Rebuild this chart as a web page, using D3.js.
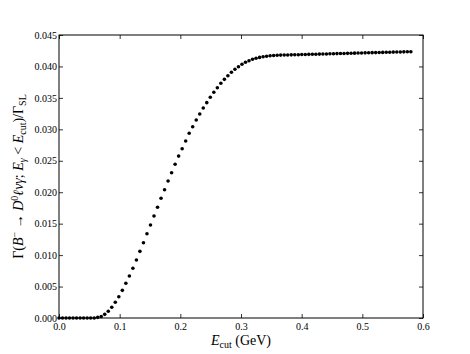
<!DOCTYPE html>
<html>
<head>
<meta charset="utf-8">
<script src="https://cdn.jsdelivr.net/npm/d3@7"></script>
<style>
  html, body { margin: 0; padding: 0; background: #fff; }
  svg text { font-family: "Liberation Serif", "DejaVu Serif", serif; fill: #000; }
</style>
</head>
<body>
<div id="chart"></div>
<script>
// photon energy cut (GeV)
const ecut = [
  0.0000, 0.0058, 0.0116, 0.0174, 0.0232, 0.0290, 0.0348, 0.0406, 0.0464, 0.0522,
  0.0580, 0.0638, 0.0696, 0.0754, 0.0812, 0.0870, 0.0928, 0.0986, 0.1044, 0.1102,
  0.1160, 0.1218, 0.1276, 0.1334, 0.1392, 0.1450, 0.1508, 0.1566, 0.1624, 0.1682,
  0.1740, 0.1798, 0.1856, 0.1914, 0.1972, 0.2030, 0.2088, 0.2146, 0.2204, 0.2262,
  0.2320, 0.2378, 0.2436, 0.2494, 0.2552, 0.2610, 0.2668, 0.2726, 0.2784, 0.2842,
  0.2900, 0.2958, 0.3016, 0.3074, 0.3132, 0.3190, 0.3248, 0.3306, 0.3364, 0.3422,
  0.3480, 0.3538, 0.3596, 0.3654, 0.3712, 0.3770, 0.3828, 0.3886, 0.3944, 0.4002,
  0.4060, 0.4118, 0.4176, 0.4234, 0.4292, 0.4350, 0.4408, 0.4466, 0.4524, 0.4582,
  0.4640, 0.4698, 0.4756, 0.4814, 0.4872, 0.4930, 0.4988, 0.5046, 0.5104, 0.5162,
  0.5220, 0.5278, 0.5336, 0.5394, 0.5452, 0.5510, 0.5568, 0.5626, 0.5684, 0.5742,
  0.5800
];
// Gamma(E_gamma < E_cut) / Gamma_SL
const ratio = [
  0, 0, 0, 0, 0, 0, 0, 0, 0, 0,
  0, 0.00010, 0.00025, 0.00058, 0.00107, 0.00170, 0.00250, 0.00339, 0.00440, 0.00552,
  0.00668, 0.00790, 0.00922, 0.01060, 0.01197, 0.01340, 0.01479, 0.01622, 0.01760, 0.01903,
  0.02040, 0.02178, 0.02310, 0.02444, 0.02574, 0.02692, 0.02814, 0.02937, 0.03042, 0.03148,
  0.03244, 0.03339, 0.03424, 0.03509, 0.03590, 0.03662, 0.03732, 0.03795, 0.03853, 0.03907,
  0.03955, 0.03996, 0.04034, 0.04066, 0.04091, 0.04114, 0.04130, 0.04144, 0.04155, 0.04163,
  0.04170, 0.04174, 0.04177, 0.04180, 0.04181, 0.04183, 0.04184, 0.04186, 0.04187, 0.04189,
  0.04190, 0.04192, 0.04193, 0.04195, 0.04196, 0.04198, 0.04199, 0.04201, 0.04202, 0.04204,
  0.04205, 0.04207, 0.04208, 0.04210, 0.04211, 0.04213, 0.04214, 0.04216, 0.04217, 0.04219,
  0.04220, 0.04222, 0.04223, 0.04225, 0.04226, 0.04228, 0.04229, 0.04230, 0.04232, 0.04233,
  0.04234
];
const xTicks = [0.0, 0.1, 0.2, 0.3, 0.4, 0.5, 0.6];
const yTicks = [0.000, 0.005, 0.010, 0.015, 0.020, 0.025, 0.030, 0.035, 0.040, 0.045];

const W = 470, H = 354;
const margin = {top: 35, right: 47, bottom: 36, left: 59};
const w = W - margin.left - margin.right,
      h = H - margin.top - margin.bottom;

const svg = d3.select("#chart").append("svg")
  .attr("width", W).attr("height", H);
const g = svg.append("g")
  .attr("transform", "translate(" + margin.left + "," + margin.top + ")");

const x = d3.scaleLinear().domain([0, 0.6]).range([0, w]);
const y = d3.scaleLinear().domain([0, 0.045]).range([h, 0]);

// ticks point inward on all four sides, like matplotlib
function styleAxis(sel) {
  sel.select(".domain").remove();
  sel.selectAll(".tick line").attr("stroke", "#000").attr("stroke-width", 0.8);
  sel.selectAll(".tick text").style("font-size", "10px");
}
g.append("g").attr("transform", "translate(0," + h + ")")
  .call(d3.axisBottom(x).tickValues(xTicks).tickFormat(d3.format(".1f")).tickSizeInner(-4).tickPadding(5))
  .call(styleAxis);
g.append("g")
  .call(d3.axisTop(x).tickValues(xTicks).tickFormat("").tickSizeInner(-4))
  .call(styleAxis);
g.append("g")
  .call(d3.axisLeft(y).tickValues(yTicks).tickFormat(d3.format(".3f")).tickSizeInner(-4).tickPadding(2))
  .call(styleAxis);
g.append("g").attr("transform", "translate(" + w + ",0)")
  .call(d3.axisRight(y).tickValues(yTicks).tickFormat("").tickSizeInner(-4))
  .call(styleAxis);

g.append("rect")
  .attr("width", w).attr("height", h)
  .attr("fill", "none").attr("stroke", "#000").attr("stroke-width", 1);

// data points
g.selectAll("circle.pt")
  .data(ecut.map((e, i) => ({e: e, v: ratio[i]})))
  .enter().append("circle")
  .attr("class", "pt")
  .attr("cx", d => x(d.e))
  .attr("cy", d => y(d.v))
  .attr("r", 1.8)
  .attr("fill", "#000");

// x label
const xl = svg.append("text")
  .attr("x", margin.left + w / 2)
  .attr("y", 345)
  .attr("text-anchor", "middle")
  .style("font-size", "14px");
xl.append("tspan").style("font-style", "italic").text("E");
xl.append("tspan").attr("dy", 3).style("font-size", "10px").text("cut");
xl.append("tspan").attr("dy", -3).text(" (GeV)");

// y label
const yl = svg.append("text")
  .attr("transform", "translate(23," + (margin.top + h / 2) + ") rotate(-90)")
  .attr("text-anchor", "middle")
  .style("font-size", "14px");
yl.append("tspan").text("Γ(");
yl.append("tspan").style("font-style", "italic").text("B");
yl.append("tspan").attr("dy", -5).style("font-size", "10px").text("−");
yl.append("tspan").attr("dy", 5).text(" → ");
yl.append("tspan").style("font-style", "italic").text("D");
yl.append("tspan").attr("dy", -5).style("font-size", "10px").text("0");
yl.append("tspan").attr("dy", 5).style("font-style", "italic").text("ℓνγ");
yl.append("tspan").text("; ");
yl.append("tspan").style("font-style", "italic").text("E");
yl.append("tspan").attr("dy", 3).style("font-size", "10px").style("font-style", "italic").text("γ");
yl.append("tspan").attr("dy", -3).text(" < ");
yl.append("tspan").style("font-style", "italic").text("E");
yl.append("tspan").attr("dy", 3).style("font-size", "10px").text("cut");
yl.append("tspan").attr("dy", -3).text(")/Γ");
yl.append("tspan").attr("dy", 3).style("font-size", "10px").text("SL");
</script>
</body>
</html>
